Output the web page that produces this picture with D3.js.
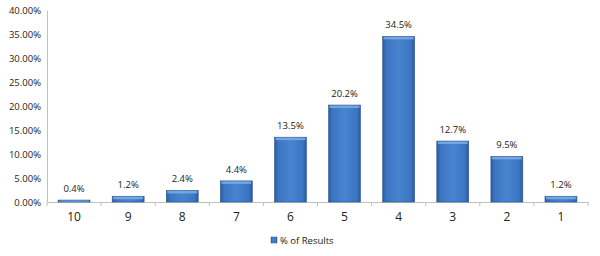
<!DOCTYPE html>
<html>
<head>
<meta charset="utf-8">
<script src="https://cdn.jsdelivr.net/npm/d3@7"></script>
<style>
  body { margin: 0; background: #fff; }
  text { font-family: "Open Sans", "DejaVu Sans", sans-serif; fill: #222; }
</style>
</head>
<body>
<div id="chart"></div>
<script>
const categories = ["10", "9", "8", "7", "6", "5", "4", "3", "2", "1"];
const values = [0.4, 1.2, 2.4, 4.4, 13.5, 20.2, 34.5, 12.7, 9.5, 1.2];
const yTicks = [0, 5, 10, 15, 20, 25, 30, 35, 40];
const seriesName = "% of Results";

const w = 600, h = 256;
const margin = {top: 10, right: 12, bottom: 54, left: 47};

const svg = d3.select("#chart").append("svg")
    .attr("width", w)
    .attr("height", h);

// bar shading
const defs = svg.append("defs");
const grad = defs.append("linearGradient")
    .attr("id", "barGrad")
    .attr("x1", "0%").attr("x2", "100%").attr("y1", "0%").attr("y2", "0%");
grad.append("stop").attr("offset", "0%").attr("stop-color", "#2a5a9c");
grad.append("stop").attr("offset", "12%").attr("stop-color", "#3c75c2");
grad.append("stop").attr("offset", "50%").attr("stop-color", "#4784d0");
grad.append("stop").attr("offset", "88%").attr("stop-color", "#3c75c2");
grad.append("stop").attr("offset", "100%").attr("stop-color", "#2a5a9c");

const x = d3.scaleBand()
    .domain(categories)
    .range([margin.left, w - margin.right])
    .paddingInner(0.41)
    .paddingOuter(0.205);

const y = d3.scaleLinear()
    .domain([0, 40])
    .range([h - margin.bottom, margin.top]);

// y axis
const yAxis = svg.append("g")
    .attr("transform", `translate(${margin.left},0)`)
    .call(d3.axisLeft(y).tickValues(yTicks).tickSize(0).tickPadding(6)
        .tickFormat(d => d.toFixed(2) + "%"));
yAxis.select(".domain").attr("stroke", "#c0c0c0");
yAxis.selectAll("text").style("font-size", "9.5px").attr("fill", "#222");

// x axis
const xAxis = svg.append("g")
    .attr("transform", `translate(0,${y(0)})`)
    .call(d3.axisBottom(x).tickSize(0).tickPadding(10));
xAxis.select(".domain").attr("stroke", "#c0c0c0");
xAxis.selectAll("text").style("font-size", "12px").attr("fill", "#222");

// tick marks between categories
const bounds = d3.range(categories.length + 1).map(i => margin.left + i * (w - margin.left - margin.right) / categories.length);
svg.append("g").selectAll("line")
    .data(bounds)
    .enter()
    .append("line")
    .attr("x1", d => d).attr("x2", d => d)
    .attr("y1", y(0)).attr("y2", y(0) + 4)
    .attr("stroke", "#c0c0c0");

// bars
const bars = svg.append("g").selectAll("g")
    .data(values)
    .enter()
    .append("g");

bars.append("rect")
    .attr("x", (d, i) => x(categories[i]))
    .attr("y", d => y(d))
    .attr("width", x.bandwidth())
    .attr("height", d => y(0) - y(d))
    .attr("fill", "url(#barGrad)")
    .attr("stroke", "#2b568f")
    .attr("stroke-width", 0.6);

// top bevel
bars.append("rect")
    .attr("x", (d, i) => x(categories[i]) + 1)
    .attr("y", d => y(d) + 0.5)
    .attr("width", x.bandwidth() - 2)
    .attr("height", d => Math.min(2.5, (y(0) - y(d)) / 2))
    .attr("fill", "#7fb0ea")
    .attr("opacity", 0.8);

bars.append("text")
    .text(d => d + "%")
    .attr("x", (d, i) => x(categories[i]) + x.bandwidth() / 2)
    .attr("y", d => y(d) - 8)
    .attr("text-anchor", "middle")
    .style("font-size", "9.5px");

// legend
const legend = svg.append("g").attr("transform", "translate(271,237)");
legend.append("rect")
    .attr("width", 6).attr("height", 6)
    .attr("fill", "url(#barGrad)")
    .attr("stroke", "#2b568f").attr("stroke-width", 0.5);
legend.append("text")
    .text(seriesName)
    .attr("x", 9).attr("y", 7)
    .style("font-size", "9.5px");
</script>
</body>
</html>
